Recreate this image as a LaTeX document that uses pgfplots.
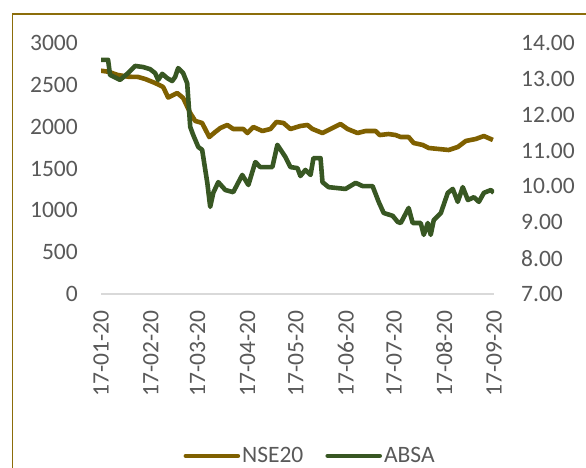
\documentclass[border=0pt]{standalone}
\usepackage{fontspec}
\setmainfont{Carlito}
\usepackage{pgfplots}
\pgfplotsset{compat=1.18}
\definecolor{nse}{HTML}{7F6000}
\definecolor{absa}{HTML}{385723}
\definecolor{txt}{HTML}{595959}
\definecolor{gridc}{HTML}{D9D9D9}
\definecolor{framec}{HTML}{8C6D0A}
\newcommand{\tfont}{\fontsize{23.5}{28}\selectfont}
\pgfplotsset{
  common/.style={
    at={(101pt,174pt)}, anchor=south west,
    scale only axis, width=393pt, height=251pt,
    xmin=0, xmax=244,
    major tick length=0pt,
    tick label style={font=\tfont, text=txt},
    /pgf/number format/assume math mode=true,
    /pgf/number format/1000 sep={},
    line join=round,
  }
}
\begin{document}
\begin{tikzpicture}
\path[use as bounding box] (0pt,0pt) rectangle (586pt,468pt);
% frame
\draw[framec, line width=1.8pt] (12.5pt,-20pt) -- (12.5pt,454pt) -- (620pt,454pt);
% title fragment (cut off at the top, as in the reference)
\node[font=\fontsize{36}{40}\selectfont, text=black, anchor=base, inner sep=0pt] at (319pt,477pt) {g};
\begin{axis}[common,
  ymin=0, ymax=3000, ytick={0,500,...,3000},
  axis x line*=bottom, axis y line*=left,
  y axis line style={draw=none},
  x axis line style={draw=gridc, line width=1.5pt, -},
  xtick={0,31,60,91,121,152,182,213,244},
  xticklabels={17-01-20,17-02-20,17-03-20,17-04-20,17-05-20,17-06-20,17-07-20,17-08-20,17-09-20},
  x tick label style={rotate=90, anchor=east, inner sep=0pt},
  xticklabel shift=16pt,
  y tick label style={anchor=east, inner sep=0pt},
  yticklabel shift=23pt,
]
\addplot[nse, line width=4.6pt] coordinates {
(0,2669)(4.4,2657)(10.6,2617)(16.8,2597)(23.0,2594)(27.4,2570)(33.6,2522)(38.6,2474)
(41.7,2348)(47.3,2402)(51.0,2343)(55.4,2163)(58.5,2068)(62.8,2044)(67.2,1876)(70.9,1936)
(74.1,1984)(78.4,2020)(82.1,1972)(88.4,1972)(90.9,1924)(94.6,1996)(100.2,1948)(105.2,1972)
(108.9,2056)(113.3,2044)(117.6,1972)(123.8,2008)(128.2,2020)(131.3,1972)(137.5,1924)
(142.5,1972)(148.7,2032)(153.1,1972)(159.3,1924)(164.3,1948)(170.5,1948)(173.0,1900)
(178.6,1912)(182.9,1900)(186.1,1876)(191.0,1876)(194.1,1805)(199.8,1781)(203.5,1745)
(209.7,1733)(215.9,1721)(221.5,1757)(226.5,1829)(232.7,1853)(237.7,1888)(243.3,1841)
};
\end{axis}
\begin{axis}[common,
  ymin=7, ymax=14, ytick={7,8,...,14},
  axis x line=none, axis y line*=right,
  y axis line style={draw=none},
  y tick label style={anchor=west, inner sep=0pt,
    /pgf/number format/.cd, fixed, fixed zerofill, precision=2},
  yticklabel shift=27pt,
  legend style={at={(0.532,-0.645)}, anchor=center, draw=none, fill=none,
    legend columns=2, font=\tfont, text=txt, inner sep=0pt,
    /tikz/every even column/.append style={column sep=20pt}},
  legend cell align=left,
  legend image code/.code={\draw[#1, line width=4.6pt, line cap=round] (0pt,0pt) -- (52pt,0pt);},
]
\addlegendimage{nse}
\addlegendentry{NSE20}
\addplot[absa, line width=4.6pt] coordinates {
(0,13.53)(4.4,13.53)(5.6,13.11)(11.8,12.97)(16.8,13.16)(21.2,13.36)(26.1,13.33)(30.5,13.27)
(33.6,13.16)(35.5,12.97)(38.0,13.14)(41.1,13.02)(44.2,12.94)(46.0,13.05)(47.9,13.30)(51.0,13.16)
(53.5,12.88)(55.4,11.66)(57.2,11.44)(60.4,11.10)(62.8,11.02)(66.0,10.10)(67.8,9.43)(69.7,9.82)
(72.8,10.12)(77.2,9.90)(82.1,9.84)(87.7,10.32)(91.5,10.04)(95.8,10.68)(98.9,10.54)(106.4,10.54)
(109.5,11.16)(114.5,10.82)(117.6,10.54)(122.0,10.51)(123.8,10.29)(126.9,10.46)(130.1,10.32)
(131.9,10.79)(136.3,10.79)(137.5,10.12)(141.3,9.98)(151.8,9.93)(158.1,10.10)(162.4,10.01)
(168.6,10.01)(172.4,9.57)(175.5,9.26)(181.1,9.18)(184.2,9.01)(186.1,8.98)(191.0,9.40)(193.5,8.98)
(198.5,8.98)(200.4,8.65)(202.9,8.98)(204.7,8.65)(206.6,9.06)(211.0,9.26)(215.3,9.82)(218.4,9.93)
(221.5,9.57)(224.6,9.98)(227.8,9.62)(231.5,9.70)(234.6,9.57)(237.7,9.82)(242.1,9.90)(243.9,9.82)
};
\addlegendentry{ABSA}
\end{axis}
\end{tikzpicture}
\end{document}
